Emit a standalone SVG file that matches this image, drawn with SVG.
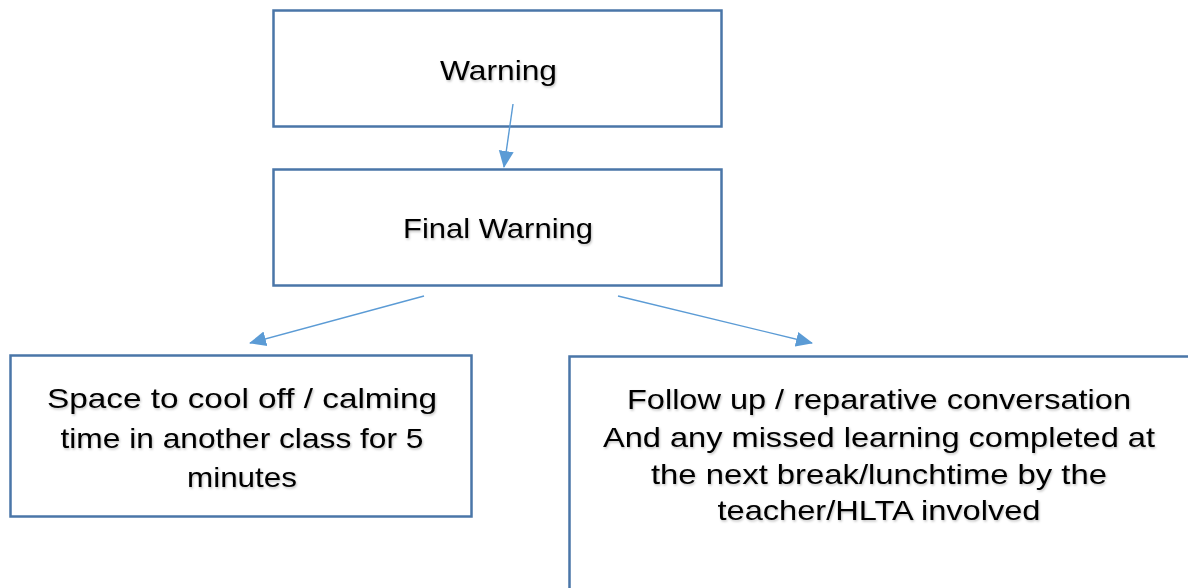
<svg xmlns="http://www.w3.org/2000/svg" width="1188" height="588" viewBox="0 0 1188 588">
<style>
.box{fill:#fff;stroke:#4a76a8;stroke-width:2.5}
.lbl{font-family:"Liberation Sans",Arial,sans-serif;font-size:28.5px;fill:#000;text-anchor:middle;filter:url(#sh)}
.conn{stroke:#5b9bd5;stroke-width:1.4;fill:none;marker-end:url(#ah)}
</style>
<defs>
<marker id="ah" markerUnits="userSpaceOnUse" markerWidth="17" markerHeight="17" viewBox="0 0 17 17" refX="16" refY="8.5" orient="auto">
<path d="M0,1 L17,8.5 L0,16 Z" fill="#5b9bd5"/>
</marker>
<filter id="sh" x="-5%" y="-20%" width="110%" height="150%">
<feDropShadow dx="1" dy="1.5" stdDeviation="0.8" flood-color="#000" flood-opacity="0.25"/>
</filter>
</defs>
<rect width="1188" height="588" fill="#fff"/>
<g id="warning">
<rect class="box" x="273.5" y="10.5" width="448" height="116"/>
<text class="lbl" x="498.5" y="80" textLength="117" lengthAdjust="spacingAndGlyphs">Warning</text>
</g>
<g id="final-warning">
<rect class="box" x="273.5" y="169.5" width="448" height="116"/>
<text class="lbl" x="498" y="238" textLength="190" lengthAdjust="spacingAndGlyphs">Final Warning</text>
</g>
<g id="cool-off">
<rect class="box" x="10.5" y="355.5" width="461" height="161"/>
<text class="lbl" x="242" y="408" textLength="390" lengthAdjust="spacingAndGlyphs">Space to cool off / calming</text>
<text class="lbl" x="242" y="448" textLength="363" lengthAdjust="spacingAndGlyphs">time in another class for 5</text>
<text class="lbl" x="242" y="487" textLength="110" lengthAdjust="spacingAndGlyphs">minutes</text>
</g>
<g id="follow-up">
<rect class="box" x="569.5" y="356.5" width="640" height="260"/>
<text class="lbl" x="879" y="409" textLength="504" lengthAdjust="spacingAndGlyphs">Follow up / reparative conversation</text>
<text class="lbl" x="879" y="447" textLength="552" lengthAdjust="spacingAndGlyphs">And any missed learning completed at</text>
<text class="lbl" x="879" y="484" textLength="456" lengthAdjust="spacingAndGlyphs">the next break/lunchtime by the</text>
<text class="lbl" x="879" y="520" textLength="323" lengthAdjust="spacingAndGlyphs">teacher/HLTA involved</text>
</g>
<g id="connectors">
<line class="conn" x1="513" y1="104" x2="504" y2="167"/>
<line class="conn" x1="424" y1="296" x2="250" y2="343"/>
<line class="conn" x1="618" y1="296" x2="812" y2="343"/>
</g>
</svg>
